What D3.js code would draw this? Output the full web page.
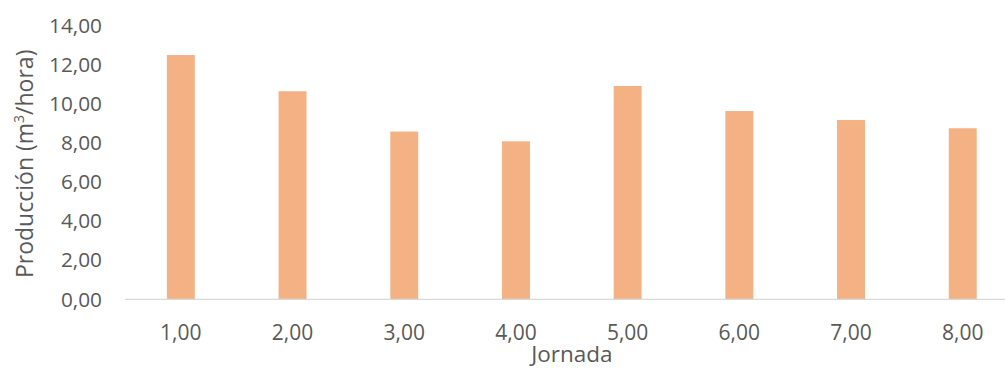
<!DOCTYPE html>
<html>
<head>
<meta charset="utf-8">
<script src="https://cdn.jsdelivr.net/npm/d3@7"></script>
<style>
  body { margin: 0; background: #fff; }
  svg text { font-family: "Open Sans", sans-serif; fill: #595959; }
</style>
</head>
<body>
<script>
/* DATA */
const jornadas = ["1,00", "2,00", "3,00", "4,00", "5,00", "6,00", "7,00", "8,00"];
const produccion = [12.48, 10.63, 8.57, 8.07, 10.90, 9.62, 9.16, 8.74];
const yTicks = [0, 2, 4, 6, 8, 10, 12, 14];

/* LAYOUT */
const WIDTH = 1005, HEIGHT = 368;
const plotLeft = 125, plotRight = 1018.6, plotTop = 25.3, plotBottom = 299.3;

const svg = d3.select("body").append("svg")
    .attr("width", WIDTH)
    .attr("height", HEIGHT);

const x = d3.scaleBand()
    .domain(jornadas)
    .range([plotLeft, plotRight])
    .padding(0);

const y = d3.scaleLinear()
    .domain([0, 14])
    .range([plotBottom, plotTop]);

const fmt = d => d.toFixed(2).replace(".", ",");

// y tick labels (no axis line, no gridlines)
svg.append("g")
    .selectAll("text")
    .data(yTicks)
    .enter()
    .append("text")
    .attr("x", 102)
    .attr("y", d => y(d))
    .attr("dy", "0.35em")
    .attr("text-anchor", "end")
    .style("font-size", "20.8px")
    .text(fmt);

// bars
const barW = x.bandwidth() * 0.25;
svg.append("g")
    .selectAll("rect")
    .data(produccion)
    .enter()
    .append("rect")
    .attr("x", (d, i) => x(jornadas[i]) + x.bandwidth() / 2 - barW / 2)
    .attr("y", d => y(d))
    .attr("width", barW)
    .attr("height", d => y(0) - y(d))
    .attr("fill", "#F4B183");

// x axis line
svg.append("line")
    .attr("x1", plotLeft)
    .attr("x2", plotRight)
    .attr("y1", y(0))
    .attr("y2", y(0))
    .attr("stroke", "#d9d9d9")
    .attr("stroke-width", 1.3);

// x tick labels
svg.append("g")
    .selectAll("text")
    .data(jornadas)
    .enter()
    .append("text")
    .attr("x", d => x(d) + x.bandwidth() / 2)
    .attr("y", 340)
    .attr("text-anchor", "middle")
    .style("font-size", "21px")
    .text(d => d);

// axis titles
svg.append("text")
    .attr("x", (plotLeft + plotRight) / 2)
    .attr("y", 362)
    .attr("text-anchor", "middle")
    .style("font-size", "22.5px")
    .text("Jornada");

const yt = svg.append("text")
    .attr("transform", "translate(33," + ((plotTop + plotBottom) / 2 + 1.5) + ") rotate(-90)")
    .attr("text-anchor", "middle")
    .style("font-size", "23px");
yt.append("tspan").text("Producción (m");
yt.append("tspan").attr("baseline-shift", "super").style("font-size", "14px").text("3");
yt.append("tspan").text("/hora)");
</script>
</body>
</html>
